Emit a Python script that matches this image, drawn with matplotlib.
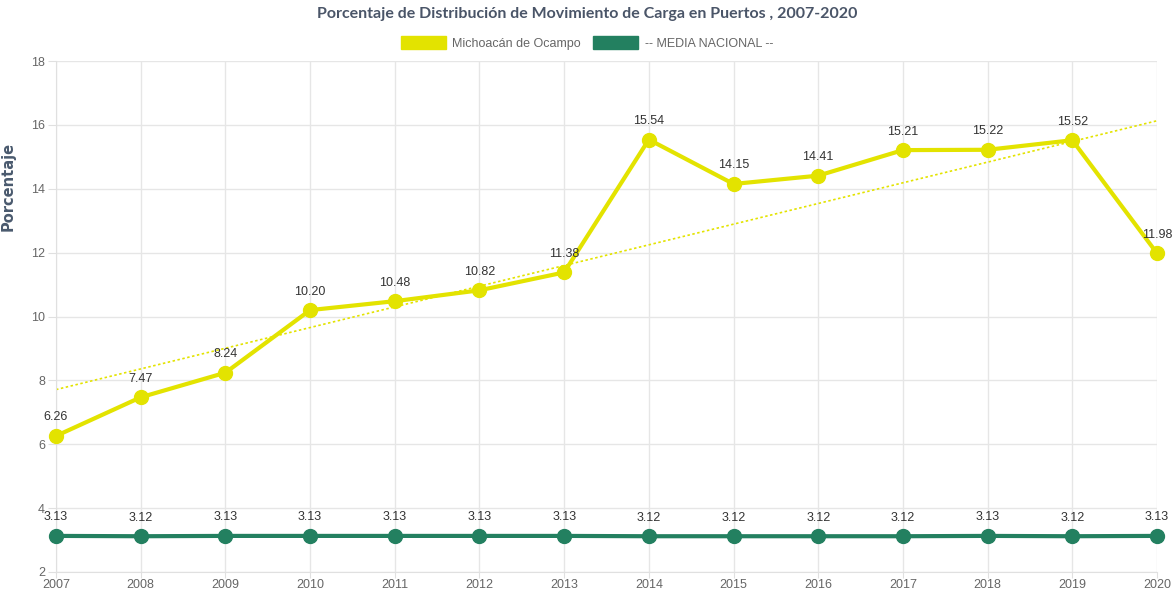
import numpy as np
import matplotlib.pyplot as plt
from matplotlib.patches import Patch

years = [2007, 2008, 2009, 2010, 2011, 2012, 2013, 2014, 2015, 2016, 2017, 2018, 2019, 2020]
michoacan = [6.26, 7.47, 8.24, 10.20, 10.48, 10.82, 11.38, 15.54, 14.15, 14.41, 15.21, 15.22, 15.52, 11.98]
media_nacional = [3.13, 3.12, 3.13, 3.13, 3.13, 3.13, 3.13, 3.12, 3.12, 3.12, 3.12, 3.13, 3.12, 3.13]

yellow = "#e3e300"
green = "#238060"
label_font = "Liberation Sans"

fig = plt.figure(figsize=(11.74, 5.96), dpi=100)
ax = fig.add_axes([56 / 1174, 1 - 572 / 596, (1157 - 56) / 1174, (572 - 61) / 596])

# trend line (linear fit)
x_idx = np.arange(len(years))
slope, intercept = np.polyfit(x_idx, michoacan, 1)
ax.plot(years, slope * x_idx + intercept, color=yellow, lw=1.2, ls=(0, (1.5, 1.5)), zorder=2)

ax.plot(years, michoacan, color=yellow, lw=3, marker="o", ms=10, zorder=4, clip_on=False)
ax.plot(years, media_nacional, color=green, lw=3, marker="o", ms=10, zorder=4, clip_on=False)

for x, v in zip(years, michoacan):
    ax.annotate(f"{v:.2f}", (x, v), xytext=(0, 9), textcoords="offset points",
                ha="center", va="bottom", fontsize=9, color="#333333", family=label_font, zorder=5)
for x, v in zip(years, media_nacional):
    ax.annotate(f"{v:.2f}", (x, v), xytext=(0, 9), textcoords="offset points",
                ha="center", va="bottom", fontsize=9, color="#333333", family=label_font, zorder=5)

ax.set_xlim(2007, 2020)
ax.set_ylim(2, 18)
ax.set_xticks(years)
ax.set_yticks(range(2, 19, 2))
ax.grid(True, color="#e6e6e6", lw=1)
ax.set_axisbelow(True)
for s in ax.spines.values():
    s.set_visible(False)
ax.spines["left"].set_visible(True)
ax.spines["bottom"].set_visible(True)
ax.spines["left"].set_color("#e0e0e0")
ax.spines["bottom"].set_color("#e0e0e0")
ax.tick_params(axis="both", colors="#e0e0e0", labelcolor="#666666", labelsize=9)
ax.tick_params(axis="y", length=6, pad=2)
ax.tick_params(axis="x", length=4, pad=1)
for lbl in ax.get_xticklabels() + ax.get_yticklabels():
    lbl.set_family(label_font)

ax.set_ylabel("Porcentaje", fontsize=10.5, fontweight="bold", color="#4a5a6e")
ax.yaxis.set_label_coords(-0.037, 0.755)

fig.text(0.5, 1 - 14 / 596, "Porcentaje de Distribución de Movimiento de Carga en Puertos , 2007-2020",
         ha="center", va="center", fontsize=11.5, fontweight="bold", color="#4a5568", family="Lato")

handles = [Patch(facecolor=yellow, edgecolor=yellow), Patch(facecolor=green, edgecolor=green)]
fig.legend(handles, ["Michoacán de Ocampo", "-- MEDIA NACIONAL --"], loc="center",
           bbox_to_anchor=(0.5, 1 - 43 / 596), ncol=2, frameon=False, handlelength=3.6,
           handleheight=1.2, handletextpad=0.5, columnspacing=1.0,
           prop={"family": label_font, "size": 9})
for t in fig.legends[0].get_texts():
    t.set_color("#666666")

fig.savefig("out.png", dpi=100)
